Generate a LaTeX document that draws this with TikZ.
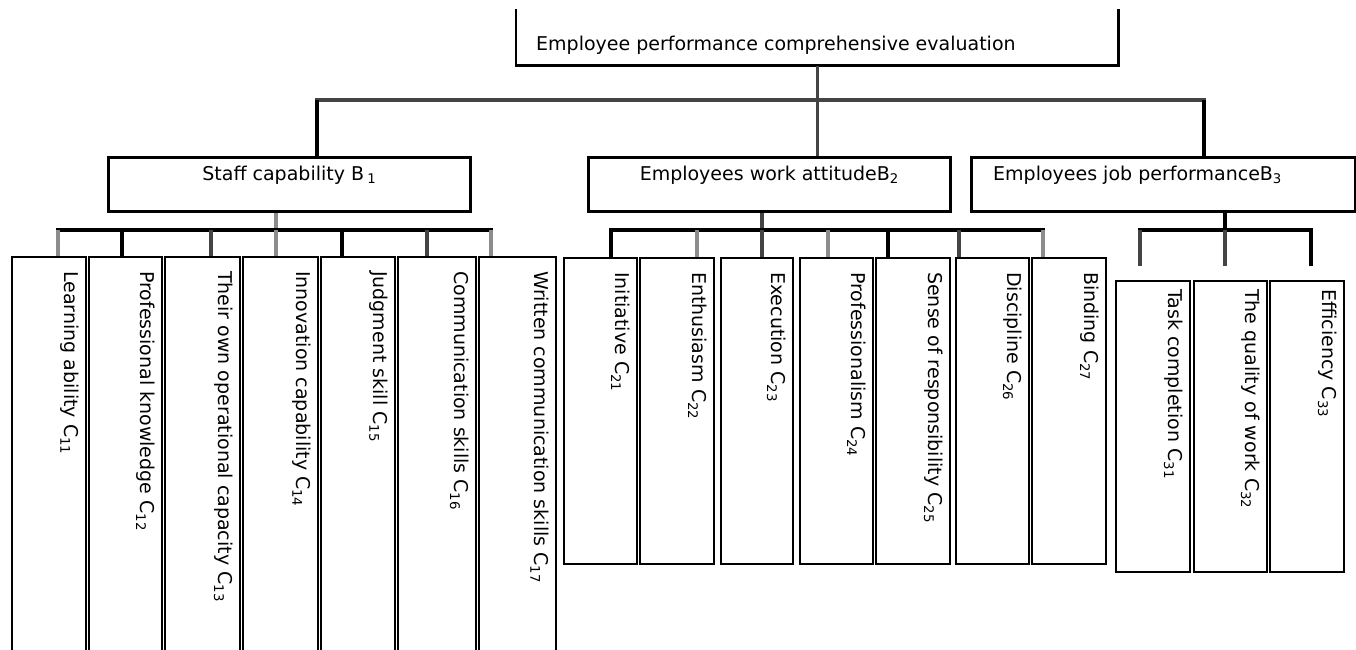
\documentclass[tikz,border=0pt]{standalone}
\usepackage{fontspec}
\setmainfont{DejaVu Sans}
\definecolor{linie}{RGB}{68,68,68}
\definecolor{hell}{RGB}{140,140,140}

\begin{document}
\begin{tikzpicture}[x=1pt, y=-1pt,
    box/.style={draw, line width=2.6pt, inner sep=0pt, anchor=north west},
    cbox/.style={box, line width=1.7pt},
    btext/.style={inner sep=0pt, font=\fontsize{19}{23}\selectfont},
    ctext/.style={btext, rotate=-90, anchor=north west},
    bus/.style={line width=3.6pt, line cap=rect},
    drop/.style={line width=3.2pt}]

    \useasboundingbox (0,0) rectangle (1356,649);
    \clip (0,0) rectangle (1356,649);

    % top box, open at the top
    \node[box, draw=none, minimum width=600pt, minimum height=54pt] (top) at (516,9) {};
    \draw[line width=2.6pt] (top.north west) -- (top.south west) -- (top.south east) -- (top.north east);
    \node[btext, anchor=base west] at ([xshift=20pt, yshift=15pt]top.south west) {Employee performance comprehensive evaluation};

    % second level
    \node[box, minimum width=362pt, minimum height=54pt] (b1) at (107,156) {};
    \node[box, minimum width=362pt, minimum height=54pt] (b2) at (587,156) {};
    \node[box, minimum width=384pt, minimum height=54pt] (b3) at (970,156) {};
    \node[btext, anchor=base] at ([yshift=-24pt]b1.north) {Staff capability B\,\textsubscript{1}};
    \node[btext, anchor=base] at ([yshift=-24pt]b2.north) {Employees work attitudeB\textsubscript{2}};
    \node[btext, anchor=base west] at ([xshift=23pt, yshift=-24pt]b3.north west) {Employees job performanceB\textsubscript{3}};

    \coordinate (hl) at (317,100);
    \coordinate (hr) at (1204,100);
    \draw[bus, linie] (hl) -- (hr);
    \draw[line width=3pt, linie] (top.south) -- (top.south |- b2.north);
    \draw[line width=3.6pt] (hl) -- (hl |- b1.north);
    \draw[line width=3.2pt] (hr) -- (hr |- b3.north);

    % staff capability
    \coordinate (s1) at (276,230);
    \draw[drop, hell] (b1.south -| s1) -- (s1);
    \draw[bus] (58,230) -- (491,230);
    \foreach \nm/\lx/\rx/\dx/\col/\txt in {
        c11/11/85/58/hell/{Learning ability C\textsubscript{11}},
        c12/88/161/122/black/{Professional knowledge C\textsubscript{12}},
        c13/164/239/211/linie/{Their own operational capacity C\textsubscript{13}},
        c14/242/317/276/hell/{Innovation capability C\textsubscript{14}},
        c15/320/394/342/black/{Judgment skill C\textsubscript{15}},
        c16/397/475/427/linie/{Communication skills C\textsubscript{16}},
        c17/478/555/491/hell/{Written communication skills C\textsubscript{17}}}
    {
        \node[cbox, minimum width={(\rx-\lx)*1pt}, minimum height=420pt] (\nm) at (\lx,256) {};
        \node[ctext] at ([xshift=-8pt, yshift=-15pt]\nm.north east) {\txt};
        \draw[drop, color=\col] (\dx,230) -- (\dx,0 |- \nm.north);
    }

    % work attitude
    \coordinate (s2) at (762,230);
    \draw[drop, linie] (b2.south -| s2) -- (s2);
    \draw[bus] (611,230) -- (1043,230);
    \foreach \nm/\lx/\rx/\dx/\col/\txt in {
        c21/563/636/611/black/{Initiative C\textsubscript{21}},
        c22/639/713/697/hell/{Enthusiasm C\textsubscript{22}},
        c23/720/792/762/linie/{Execution C\textsubscript{23}},
        c24/799/872/828/hell/{Professionalism C\textsubscript{24}},
        c25/875/949/888/black/{Sense of responsibility C\textsubscript{25}},
        c26/955/1028/959/linie/{Discipline C\textsubscript{26}},
        c27/1031/1105/1043/hell/{Binding C\textsubscript{27}}}
    {
        \node[cbox, minimum width={(\rx-\lx)*1pt}, minimum height=306pt] (\nm) at (\lx,257) {};
        \node[ctext] at ([xshift=-8pt, yshift=-15pt]\nm.north east) {\txt};
        \draw[drop, color=\col] (\dx,230) -- (\dx,0 |- \nm.north);
    }

    % job performance
    \coordinate (s3) at (1225,230);
    \draw[drop] (b3.south -| s3) -- (s3);
    \draw[bus] (1140,230) -- (1311,230);
    \foreach \nm/\lx/\rx/\dx/\col/\txt in {
        c31/1115/1189/1140/linie/{Task completion C\textsubscript{31}},
        c32/1193/1266/1225/linie/{The quality of work C\textsubscript{32}},
        c33/1269/1343/1311/black/{Efficiency C\textsubscript{33}}}
    {
        \node[cbox, minimum width={(\rx-\lx)*1pt}, minimum height=291pt] (\nm) at (\lx,280) {};
        \node[ctext] at ([xshift=-8pt, yshift=-9pt]\nm.north east) {\txt};
        \draw[drop, color=\col] (\dx,230) -- ++(0,36);
    }

\end{tikzpicture}
\end{document}
